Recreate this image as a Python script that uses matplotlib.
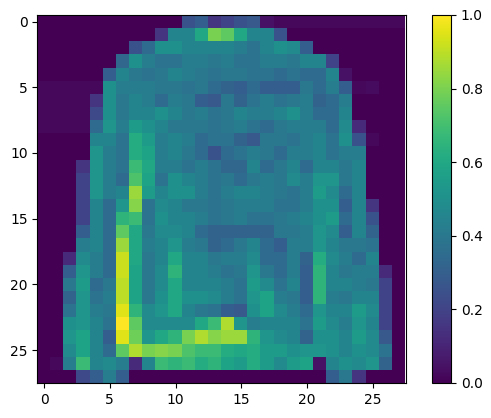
import numpy as np
import matplotlib
matplotlib.use("Agg")
import matplotlib.pyplot as plt

Z = [0.0] * 28
pixels = [
 Z[:11] + [.25,.3,.15, .2,.25,.28,.05] + [0.02]*10,
 [0]*9 + [.15,.45,.45,.6,.8, .75,.6,.45,.45,.25] + [0]*9,
 [0]*7 + [.25,.35,.5,.5,.45,.45,.45, .45,.42,.38,.45,.5,.48,.3] + [0]*7,
 [0]*6 + [.33,.5,.42,.38,.38,.42,.42,.4, .42,.38,.38,.42,.42,.4,.45,.45,.2] + [0]*5,
 [0]*5 + [.3,.45,.4,.38,.4,.45,.42,.4,.38, .4,.4,.38,.38,.35,.38,.35,.35,.45,.05] + [0]*4,
 [0.02]*5 + [.5,.42,.42,.42,.4,.4,.38,.4,.35, .32,.3,.35,.3,.3,.3,.4,.35,.42,.3,.02,.03] + [0]*2,
 [0.02]*4 + [.15,.5,.4,.45,.42,.35,.42,.4,.3,.28, .4,.32,.38,.42,.38,.4,.42,.32,.35,.42] + [0]*4,
 [0.02]*4 + [.22,.5,.4,.45,.45,.5,.45,.4,.42,.38, .4,.45,.42,.42,.45,.5,.42,.35,.35,.45] + [0]*4,
 [0.02]*4 + [.35,.52,.42,.55,.5,.45,.4,.4,.4,.38, .4,.42,.38,.35,.4,.42,.42,.42,.35,.48,.12] + [0]*3,
 [0]*4 + [.45,.45,.38,.62,.55,.42,.45,.42,.35,.38, .38,.32,.28,.4,.4,.38,.42,.45,.38,.5,.25,.02] + [0]*2,
 [0]*4 + [.52,.42,.38,.62,.58,.42,.45,.4,.35,.25, .35,.38,.42,.4,.35,.42,.42,.45,.38,.42,.42] + [0]*3,
 [0]*3 + [.15,.52,.42,.38,.68,.6,.42,.42,.38,.42,.38, .33,.33,.45,.35,.4,.45,.35,.45,.45,.4,.45] + [0]*3,
 [0]*3 + [.2,.52,.42,.35,.72,.58,.38,.5,.45,.42,.38, .4,.35,.4,.42,.4,.48,.42,.52,.52,.4,.45] + [0]*3,
 [0]*3 + [.2,.52,.42,.45,.85,.55,.45,.5,.5,.42,.38, .42,.45,.45,.42,.4,.38,.42,.55,.48,.35,.45] + [0]*3,
 [0]*3 + [.2,.45,.35,.52,.82,.38,.48,.45,.4,.4,.38, .4,.42,.42,.42,.38,.38,.42,.5,.5,.3,.45,.15] + [0]*2,
 [0]*3 + [.2,.45,.35,.65,.68,.38,.5,.45,.45,.42,.38, .4,.42,.38,.38,.4,.42,.45,.5,.55,.35,.45,.25] + [0]*2,
 [0]*3 + [.3,.45,.35,.75,.6,.4,.48,.48,.45,.35,.32, .32,.32,.32,.32,.4,.4,.42,.52,.48,.3,.45,.32] + [0]*2,
 [0]*3 + [.42,.45,.35,.85,.6,.42,.45,.52,.42,.4,.32, .35,.4,.45,.35,.3,.42,.42,.52,.45,.4,.4,.38] + [0]*2,
 [0]*2 + [.12,.48,.42,.35,.92,.6,.4,.45,.6,.45,.45,.4, .42,.42,.48,.35,.35,.42,.32,.62,.48,.42,.35,.45] + [0]*2,
 [0]*2 + [.3,.52,.42,.35,.92,.58,.4,.48,.65,.45,.45,.42, .38,.4,.52,.4,.35,.42,.3,.65,.45,.4,.42,.42,.12,0],
 [0]*2 + [.4,.55,.35,.4,.9,.58,.4,.48,.6,.45,.45,.45, .42,.38,.55,.48,.38,.45,.3,.65,.45,.45,.42,.4,.2,0],
 [0]*2 + [.32,.52,.38,.42,.9,.58,.4,.5,.6,.5,.5,.48, .42,.38,.52,.58,.42,.4,.3,.65,.42,.4,.45,.45,.2,0],
 [0]*2 + [.38,.52,.42,.4,.95,.65,.48,.52,.6,.45,.4,.38, .3,.28,.5,.58,.48,.42,.35,.52,.45,.45,.55,.48,.2,0],
 [0]*2 + [.5,.52,.45,.38,1.0,.75,.48,.48,.48,.48,.6,.68, .88,.52,.42,.45,.45,.45,.38,.55,.48,.42,.52,.45,.2,0],
 [0]*2 + [.52,.58,.45,.3,.95,.78,.52,.6,.65,.8,.88,.82, .85,.85,.65,.52,.48,.45,.32,.5,.5,.45,.55,.48,.28,0],
 [0]*2 + [.48,.58,.45,.35,.75,.88,.8,.82,.8,.72,.68,.68, .62,.6,.62,.55,.55,.5,.52,.52,.5,.45,.5,.48,.38,0],
 [0,.02] + [.42,.68,.45,.48,.42,.12,.45,.68,.65,.68,.62,.65, .58,.55,.62,.55,.48,.55,.58,.05,.45,.5,.48,.52,.32,0],
 [0]*3 + [.22,.3,.42,.3] + [0]*15 + [.3,.4,.15] + [0]*3,
]
img = np.array(pixels)

W, H = 491, 418
fig = plt.figure(figsize=(W / 100, H / 100), dpi=100)
ax = fig.add_axes([35 / W, 35 / H, 373 / W, 368 / H])
im = ax.imshow(img, cmap="viridis", vmin=0, vmax=1)
cax = fig.add_axes([432 / W, 35 / H, 19 / W, 368 / H])
fig.colorbar(im, cax=cax)
fig.savefig("out.png")
